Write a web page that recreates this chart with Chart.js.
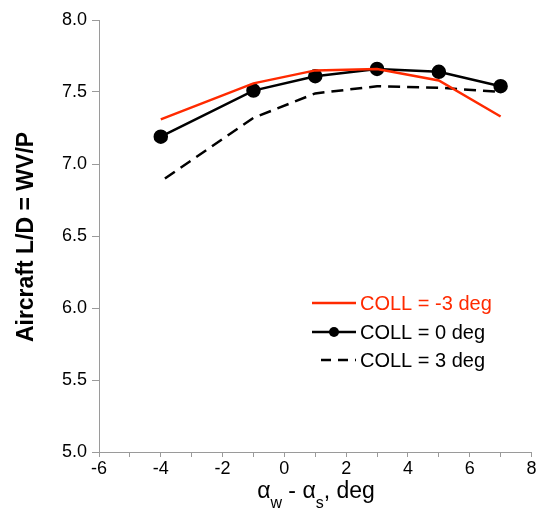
<!DOCTYPE html>
<html>
<head>
<meta charset="utf-8">
<script src="https://cdn.jsdelivr.net/npm/chart.js@4"></script>
<style>
  html, body { margin: 0; padding: 0; background: #fff; }
  #wrap { width: 540px; height: 512px; }
</style>
</head>
<body>
<div id="wrap"><canvas id="chart" width="540" height="512"></canvas></div>
<script>
// alpha_w - alpha_s, deg
const alphaDiff = [-4, -1, 1, 3, 5, 7];
// aircraft L/D for each collective setting
const collMinus3 = [7.31, 7.56, 7.65, 7.66, 7.58, 7.33];
const coll0 = [7.19, 7.51, 7.61, 7.66, 7.64, 7.54];
const coll3 = [6.88, 7.32, 7.49, 7.54, 7.53, 7.50];
const seriesLabels = ['COLL = -3 deg', 'COLL = 0 deg', 'COLL = 3 deg'];

const toPoints = (vals) => alphaDiff.map((x, i) => ({ x: x, y: vals[i] }));
const FONT = 'Liberation Sans, Arial, Helvetica, sans-serif';
const axisGrey = '#9a9a9a';

// legend inside the plot and the axis titles (with subscripts)
const extras = {
  id: 'extras',
  afterDraw(chart) {
    const ctx = chart.ctx;
    ctx.save();
    const rows = [
      { y: 303, ds: chart.data.datasets[0], color: '#ff2a00' },
      { y: 332, ds: chart.data.datasets[1], color: '#000' },
      { y: 360, ds: chart.data.datasets[2], color: '#000' },
    ];
    rows.forEach((r, i) => {
      ctx.strokeStyle = r.ds.borderColor;
      ctx.lineWidth = r.ds.borderWidth;
      ctx.setLineDash(i == 2 ? [10, 7] : []);
      ctx.beginPath();
      ctx.moveTo(i == 2 ? 321 : 312, r.y);
      ctx.lineTo(356, r.y);
      ctx.stroke();
      ctx.setLineDash([]);
      if (i == 1) {
        ctx.fillStyle = '#000';
        ctx.beginPath();
        ctx.arc(334, r.y, 5, 0, Math.PI * 2);
        ctx.fill();
      }
      ctx.fillStyle = r.color;
      ctx.font = '20px ' + FONT;
      ctx.textAlign = 'left';
      ctx.textBaseline = 'middle';
      ctx.fillText(seriesLabels[i], 360, r.y + 1);
    });

    // y title
    ctx.fillStyle = '#000';
    ctx.font = 'bold 23px ' + FONT;
    ctx.translate(33, 237);
    ctx.rotate(-Math.PI / 2);
    ctx.textAlign = 'center';
    ctx.textBaseline = 'alphabetic';
    ctx.fillText('Aircraft L/D = WV/P', 0, 0);
    ctx.setTransform(1, 0, 0, 1, 0, 0);

    // x title: alpha_w - alpha_s, deg
    ctx.textAlign = 'left';
    ctx.textBaseline = 'alphabetic';
    const big = '23px ' + FONT, small = '16px ' + FONT;
    const parts = [
      ['α', big, 0], ['w', small, 10], [' - ', big, 0], ['α', big, 0], ['s', small, 10], [', deg', big, 0],
    ];
    let total = 0;
    parts.forEach(p => { ctx.font = p[1]; total += ctx.measureText(p[0]).width; });
    let x = 316 - total / 2;
    parts.forEach(p => {
      ctx.font = p[1];
      ctx.fillText(p[0], x, 498 + p[2]);
      x += ctx.measureText(p[0]).width;
    });
    ctx.restore();
  }
};

new Chart(document.getElementById('chart'), {
  type: 'line',
  data: {
    datasets: [
      {
        label: seriesLabels[0],
        data: toPoints(collMinus3),
        borderColor: '#ff2a00',
        borderWidth: 2.5,
        pointRadius: 0,
        tension: 0,
      },
      {
        label: seriesLabels[1],
        data: toPoints(coll0),
        borderColor: '#000',
        backgroundColor: '#000',
        borderWidth: 2.5,
        pointRadius: 6,
        pointHoverRadius: 6,
        tension: 0,
      },
      {
        label: seriesLabels[2],
        data: toPoints(coll3),
        borderColor: '#000',
        borderWidth: 2.5,
        borderDash: [12, 7],
        borderDashOffset: 14,
        pointRadius: 0,
        tension: 0,
      },
    ],
  },
  options: {
    responsive: false,
    animation: false,
    layout: { padding: { top: 20, right: 7, left: 0, bottom: 0 } },
    plugins: { legend: { display: false }, tooltip: { enabled: false } },
    scales: {
      x: {
        type: 'linear',
        min: -6,
        max: 8,
        afterFit: (s) => { s.height = 60; },
        ticks: {
          stepSize: 1,
          autoSkip: false,
          maxRotation: 0,
          padding: 1,
          color: '#000',
          font: { family: FONT, size: 18 },
          callback: (v) => (v % 2 == 0 ? String(v) : ''),
        },
        grid: { drawOnChartArea: false, drawTicks: true, tickLength: 5, color: axisGrey },
        border: { color: axisGrey, width: 1 },
      },
      y: {
        min: 5,
        max: 8,
        afterFit: (s) => { s.width = 99; },
        ticks: {
          stepSize: 0.5,
          padding: 5,
          color: '#000',
          font: { family: FONT, size: 18 },
          callback: (v) => v.toFixed(1),
        },
        grid: { drawOnChartArea: false, drawTicks: true, tickLength: 7, color: axisGrey },
        border: { color: axisGrey, width: 1 },
      },
    },
  },
  plugins: [extras],
});
</script>
</body>
</html>
